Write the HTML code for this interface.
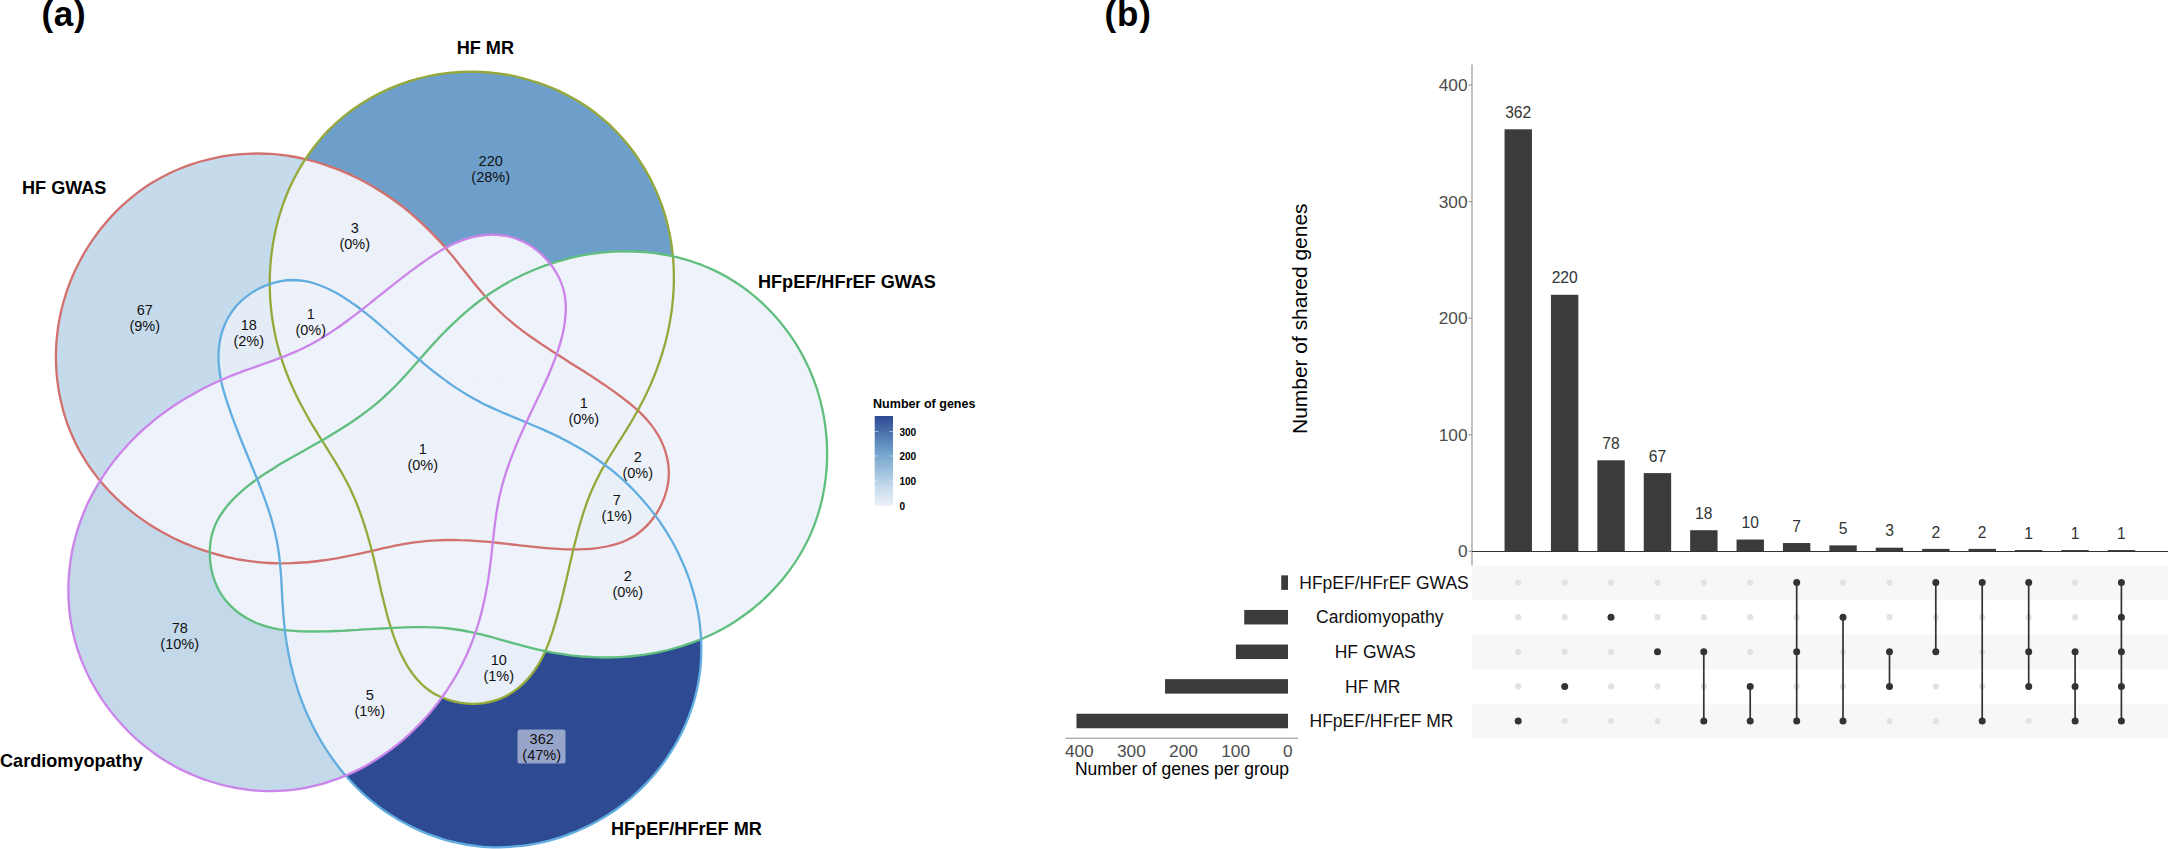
<!DOCTYPE html>
<html lang="en"><head><meta charset="utf-8"><title>Venn and UpSet</title>
<style>
html,body{margin:0;padding:0;background:#fff;}
body{width:2168px;height:849px;overflow:hidden;}
svg{display:block;font-family:"Liberation Sans",sans-serif;}
.b{font-weight:bold;}
.cnt{font-size:14.5px;fill:#111;text-anchor:middle;}
.set{font-size:18.1px;font-weight:bold;fill:#000;}
.ax{font-size:17.3px;fill:#4d4d4d;}
.bl{font-size:15.6px;fill:#333;text-anchor:middle;}
.sl{font-size:17.5px;fill:#111;text-anchor:middle;}
</style></head><body>
<svg width="2168" height="849" viewBox="0 0 2168 849">
<rect width="2168" height="849" fill="#fff"/>

<defs>
<path id="p_red" d="M63.4 411.2C62.4 407.5 61.4 403.8 60.6 400.1C59.8 396.4 59.1 392.7 58.5 388.9C57.9 385.2 57.4 381.4 57.0 377.7C56.6 373.9 56.3 370.2 56.2 366.4C56.0 362.6 55.9 358.9 55.9 355.1C56.0 351.4 56.1 347.6 56.3 343.8C56.6 340.1 56.9 336.4 57.4 332.6C57.8 328.9 58.4 325.2 59.0 321.5C59.7 317.8 60.4 314.1 61.3 310.4C62.2 306.8 63.1 303.1 64.2 299.5C65.2 295.9 66.4 292.3 67.6 288.8C68.9 285.2 70.3 281.7 71.7 278.2C73.2 274.7 74.7 271.2 76.4 267.8C78.0 264.4 79.8 261.0 81.6 257.7C83.4 254.4 85.4 251.1 87.4 247.9C89.4 244.7 91.5 241.5 93.7 238.4C95.8 235.2 98.1 232.2 100.5 229.2C102.8 226.2 105.2 223.3 107.7 220.4C110.2 217.6 112.8 214.8 115.5 212.1C118.1 209.4 120.9 206.7 123.7 204.2C126.5 201.6 129.4 199.2 132.3 196.8C135.2 194.4 138.2 192.1 141.3 189.9C144.4 187.7 147.5 185.6 150.7 183.6C153.9 181.6 157.1 179.7 160.4 177.9C163.8 176.1 167.1 174.4 170.5 172.7C173.9 171.1 177.4 169.6 180.9 168.2C184.4 166.8 187.9 165.5 191.5 164.3C195.1 163.1 198.7 162.0 202.3 161.0C206.0 160.0 209.6 159.1 213.3 158.3C217.0 157.5 220.7 156.7 224.5 156.1C228.2 155.6 232.0 155.1 235.7 154.7C239.5 154.3 243.2 154.0 247.0 153.8C250.8 153.6 254.6 153.5 258.3 153.5C262.1 153.6 265.9 153.7 269.7 153.9C273.4 154.1 277.2 154.5 280.9 154.9C284.7 155.3 288.4 155.9 292.1 156.5C295.9 157.1 299.6 157.9 303.3 158.7C306.9 159.5 310.6 160.5 314.2 161.5C317.9 162.5 321.5 163.6 325.1 164.8C328.7 166.0 332.3 167.3 335.8 168.6C339.3 170.0 342.8 171.4 346.3 172.9C349.8 174.5 353.2 176.1 356.6 177.8C360.0 179.4 363.4 181.2 366.7 183.0C370.0 184.8 373.3 186.7 376.5 188.7C379.8 190.7 383.0 192.7 386.1 194.8C389.3 196.9 392.4 199.1 395.4 201.3C398.4 203.5 401.4 205.8 404.4 208.2C407.3 210.5 410.2 212.9 413.1 215.4C415.9 217.8 418.7 220.4 421.5 222.9C424.2 225.5 427.0 228.1 429.6 230.8C432.3 233.4 434.9 236.1 437.5 238.9C440.1 241.7 442.6 244.5 445.1 247.3C447.6 250.2 450.0 253.1 452.5 256.0C454.9 258.9 457.3 261.9 459.6 264.9C462.0 267.8 464.4 270.8 466.7 273.8C469.1 276.8 471.5 279.8 473.8 282.7C476.2 285.7 478.6 288.6 481.1 291.5C483.5 294.4 486.0 297.3 488.5 300.1C491.1 302.9 493.6 305.6 496.3 308.3C499.0 310.9 501.7 313.5 504.5 316.0C507.3 318.5 510.1 321.0 513.0 323.3C515.9 325.7 518.9 328.0 521.9 330.3C524.9 332.6 528.0 334.8 531.1 337.0C534.1 339.2 537.3 341.3 540.4 343.4C543.5 345.5 546.7 347.6 549.9 349.7C553.0 351.8 556.2 353.8 559.4 355.8C562.6 357.9 565.8 359.9 569.0 361.9C572.2 363.9 575.4 365.9 578.6 368.0C581.7 370.0 584.9 372.0 588.1 374.1C591.3 376.1 594.4 378.2 597.6 380.3C600.7 382.4 603.8 384.5 607.0 386.6C610.1 388.8 613.2 391.0 616.2 393.2C619.3 395.4 622.3 397.6 625.3 400.0C628.3 402.3 631.3 404.7 634.1 407.2C637.0 409.6 639.8 412.2 642.4 414.9C645.1 417.6 647.6 420.4 650.0 423.4C652.4 426.4 654.6 429.5 656.6 432.7C658.6 435.9 660.5 439.2 662.0 442.6C663.6 446.1 664.9 449.6 665.9 453.3C667.0 456.9 667.8 460.6 668.3 464.3C668.7 468.0 668.9 471.8 668.8 475.6C668.6 479.3 668.2 483.1 667.4 486.8C666.7 490.4 665.6 494.1 664.3 497.7C663.0 501.2 661.4 504.7 659.6 508.1C657.8 511.4 655.7 514.7 653.5 517.7C651.3 520.8 648.8 523.7 646.2 526.4C643.6 529.0 640.7 531.5 637.7 533.7C634.7 535.9 631.5 537.8 628.1 539.4C624.8 541.1 621.2 542.5 617.6 543.6C614.0 544.8 610.3 545.7 606.6 546.5C602.8 547.3 599.1 547.9 595.3 548.3C591.5 548.8 587.7 549.0 583.9 549.2C580.2 549.4 576.3 549.4 572.6 549.4C568.8 549.4 565.0 549.3 561.2 549.1C557.4 548.9 553.7 548.7 549.9 548.4C546.1 548.1 542.4 547.8 538.6 547.4C534.9 547.0 531.1 546.6 527.3 546.2C523.6 545.8 519.8 545.3 516.1 544.9C512.3 544.5 508.6 544.0 504.8 543.6C501.0 543.2 497.3 542.8 493.5 542.4C489.7 542.0 485.9 541.7 482.1 541.4C478.3 541.1 474.6 540.8 470.8 540.6C467.0 540.4 463.2 540.2 459.4 540.2C455.6 540.1 451.8 540.0 448.1 540.0C444.3 540.1 440.5 540.2 436.7 540.3C433.0 540.5 429.2 540.8 425.5 541.1C421.7 541.5 418.0 541.9 414.2 542.4C410.5 542.9 406.8 543.6 403.1 544.2C399.4 544.9 395.7 545.6 392.0 546.4C388.3 547.1 384.6 548.0 380.9 548.8C377.2 549.6 373.6 550.5 369.9 551.3C366.2 552.1 362.5 553.0 358.8 553.8C355.1 554.6 351.4 555.4 347.7 556.2C344.0 556.9 340.3 557.6 336.6 558.3C332.8 558.9 329.1 559.5 325.4 560.1C321.6 560.6 317.9 561.1 314.1 561.5C310.4 561.9 306.6 562.3 302.9 562.5C299.1 562.8 295.4 563.0 291.6 563.2C287.9 563.3 284.1 563.3 280.3 563.3C276.6 563.3 272.8 563.2 269.0 563.0C265.3 562.8 261.5 562.5 257.7 562.1C254.0 561.7 250.2 561.2 246.5 560.7C242.7 560.1 239.0 559.5 235.3 558.8C231.6 558.0 227.8 557.2 224.2 556.3C220.5 555.4 216.8 554.4 213.2 553.4C209.5 552.3 205.9 551.2 202.3 549.9C198.7 548.7 195.1 547.4 191.6 546.0C188.1 544.6 184.6 543.1 181.1 541.6C177.7 540.0 174.2 538.4 170.9 536.7C167.5 534.9 164.1 533.1 160.8 531.3C157.6 529.4 154.3 527.4 151.1 525.4C147.9 523.4 144.8 521.3 141.7 519.1C138.6 516.9 135.6 514.7 132.6 512.3C129.6 510.0 126.7 507.6 123.9 505.1C121.0 502.6 118.3 500.1 115.6 497.5C112.9 494.8 110.2 492.2 107.7 489.4C105.1 486.6 102.6 483.8 100.2 480.9C97.8 478.0 95.5 475.1 93.3 472.1C91.0 469.0 88.9 465.9 86.8 462.8C84.8 459.6 82.8 456.4 80.9 453.2C79.1 449.9 77.3 446.6 75.6 443.2C73.9 439.8 72.4 436.3 70.9 432.8C69.4 429.3 68.1 425.7 66.8 422.1C65.6 418.5 64.4 414.9 63.4 411.2Z"/>
<clipPath id="c_red"><use href="#p_red"/></clipPath>
<path id="p_olive" d="M354.6 108.3C357.7 106.1 360.9 104.0 364.1 102.0C367.3 100.0 370.6 98.1 373.9 96.3C377.3 94.5 380.6 92.7 384.1 91.1C387.5 89.5 390.9 88.0 394.4 86.6C397.9 85.2 401.4 83.9 405.0 82.6C408.5 81.4 412.1 80.3 415.7 79.3C419.4 78.3 423.0 77.3 426.7 76.5C430.3 75.7 434.0 75.0 437.7 74.4C441.4 73.8 445.2 73.3 448.9 72.9C452.6 72.5 456.4 72.2 460.2 72.0C463.9 71.8 467.7 71.7 471.5 71.7C475.2 71.7 479.0 71.8 482.8 72.0C486.6 72.2 490.3 72.5 494.1 73.0C497.9 73.4 501.6 73.9 505.4 74.5C509.1 75.1 512.9 75.9 516.6 76.7C520.3 77.5 524.0 78.5 527.6 79.5C531.3 80.5 534.9 81.6 538.5 82.9C542.1 84.1 545.7 85.4 549.2 86.8C552.8 88.2 556.2 89.7 559.7 91.4C563.1 93.0 566.5 94.7 569.8 96.5C573.2 98.3 576.5 100.1 579.7 102.1C582.9 104.1 586.1 106.2 589.2 108.3C592.2 110.5 595.3 112.8 598.2 115.1C601.2 117.5 604.1 119.9 606.9 122.4C609.7 124.9 612.4 127.5 615.0 130.2C617.7 132.9 620.3 135.7 622.8 138.5C625.2 141.3 627.7 144.2 630.0 147.2C632.3 150.2 634.6 153.2 636.7 156.3C638.9 159.4 640.9 162.6 642.9 165.8C644.9 169.0 646.8 172.3 648.6 175.6C650.4 178.9 652.1 182.3 653.7 185.7C655.4 189.1 656.9 192.6 658.3 196.1C659.7 199.6 661.1 203.1 662.3 206.7C663.5 210.3 664.7 213.9 665.7 217.5C666.7 221.1 667.7 224.8 668.5 228.5C669.4 232.1 670.1 235.8 670.7 239.6C671.4 243.3 671.9 247.0 672.3 250.8C672.8 254.5 673.1 258.3 673.4 262.1C673.6 265.8 673.8 269.6 673.8 273.4C673.9 277.2 673.9 281.0 673.8 284.7C673.7 288.5 673.5 292.3 673.2 296.1C672.9 299.9 672.5 303.7 672.1 307.4C671.6 311.2 671.1 314.9 670.4 318.7C669.8 322.4 669.1 326.2 668.3 329.9C667.6 333.6 666.7 337.3 665.8 340.9C664.8 344.6 663.8 348.2 662.7 351.8C661.6 355.4 660.5 359.0 659.2 362.6C658.0 366.1 656.7 369.7 655.3 373.2C653.9 376.7 652.5 380.2 651.0 383.6C649.5 387.1 647.9 390.5 646.3 393.9C644.7 397.3 643.0 400.7 641.2 404.0C639.5 407.4 637.7 410.7 635.8 414.0C633.9 417.3 632.0 420.6 630.1 423.8C628.1 427.1 626.1 430.3 624.1 433.5C622.1 436.7 620.0 440.0 618.0 443.2C616.0 446.4 613.9 449.6 611.9 452.8C609.9 456.1 607.9 459.3 606.0 462.6C604.1 465.8 602.2 469.1 600.4 472.4C598.7 475.8 596.9 479.1 595.3 482.5C593.7 485.9 592.2 489.3 590.7 492.8C589.3 496.3 587.9 499.8 586.6 503.3C585.4 506.8 584.2 510.4 583.0 514.0C581.9 517.6 580.8 521.2 579.7 524.8C578.7 528.4 577.7 532.1 576.8 535.8C575.8 539.4 574.9 543.1 574.0 546.8C573.1 550.4 572.2 554.1 571.4 557.8C570.5 561.5 569.7 565.2 568.8 568.9C568.0 572.5 567.1 576.2 566.3 579.9C565.4 583.6 564.6 587.3 563.7 590.9C562.8 594.6 561.9 598.3 561.0 601.9C560.0 605.6 559.1 609.2 558.1 612.9C557.1 616.5 556.1 620.2 555.0 623.8C553.9 627.4 552.8 631.1 551.6 634.7C550.4 638.2 549.2 641.8 547.8 645.3C546.3 648.9 544.9 652.3 543.2 655.7C541.5 659.1 539.7 662.5 537.7 665.7C535.7 668.9 533.5 672.1 531.1 675.0C528.8 678.0 526.2 680.8 523.5 683.4C520.8 686.0 517.9 688.5 514.8 690.6C511.8 692.8 508.5 694.8 505.2 696.5C501.8 698.2 498.3 699.6 494.7 700.7C491.1 701.8 487.4 702.6 483.7 703.2C480.0 703.7 476.2 703.9 472.4 703.8C468.6 703.8 464.8 703.4 461.0 702.8C457.3 702.2 453.5 701.4 449.9 700.3C446.3 699.2 442.7 697.9 439.3 696.3C435.9 694.7 432.6 692.8 429.6 690.7C426.5 688.6 423.6 686.2 421.0 683.5C418.3 680.9 415.8 678.0 413.5 675.0C411.2 672.0 409.1 668.8 407.1 665.6C405.2 662.3 403.4 658.9 401.7 655.5C400.0 652.1 398.5 648.6 397.1 645.1C395.6 641.6 394.3 638.0 393.1 634.5C391.9 630.9 390.7 627.3 389.6 623.7C388.5 620.0 387.5 616.4 386.6 612.8C385.6 609.1 384.7 605.4 383.8 601.8C382.9 598.1 382.0 594.4 381.1 590.7C380.3 587.1 379.5 583.4 378.6 579.7C377.8 576.0 377.0 572.3 376.1 568.6C375.3 564.9 374.4 561.2 373.5 557.5C372.6 553.8 371.7 550.2 370.7 546.5C369.7 542.8 368.7 539.2 367.6 535.5C366.6 531.9 365.5 528.2 364.3 524.6C363.1 521.0 361.9 517.5 360.6 513.9C359.4 510.3 358.0 506.8 356.6 503.3C355.2 499.8 353.7 496.4 352.1 492.9C350.6 489.5 348.9 486.1 347.2 482.8C345.5 479.5 343.6 476.2 341.8 472.9C339.9 469.6 338.0 466.4 336.1 463.1C334.1 459.9 332.1 456.7 330.1 453.5C328.1 450.3 326.1 447.1 324.1 443.9C322.1 440.7 320.1 437.5 318.1 434.3C316.1 431.0 314.1 427.8 312.1 424.6C310.2 421.3 308.3 418.1 306.5 414.8C304.6 411.5 302.8 408.1 301.1 404.8C299.3 401.5 297.6 398.1 296.0 394.7C294.3 391.3 292.8 387.9 291.3 384.4C289.7 381.0 288.3 377.5 286.9 374.0C285.6 370.5 284.3 367.0 283.0 363.4C281.8 359.8 280.7 356.2 279.6 352.6C278.6 349.0 277.6 345.3 276.7 341.7C275.8 338.0 275.0 334.3 274.3 330.6C273.6 326.9 272.9 323.1 272.4 319.4C271.8 315.6 271.4 311.9 271.0 308.1C270.6 304.3 270.3 300.5 270.1 296.7C269.9 292.9 269.8 289.1 269.8 285.3C269.7 281.6 269.8 277.8 269.9 274.0C270.1 270.2 270.3 266.4 270.6 262.6C271.0 258.8 271.4 255.0 271.9 251.3C272.4 247.5 272.9 243.8 273.6 240.0C274.3 236.3 275.1 232.6 275.9 228.9C276.8 225.2 277.7 221.6 278.7 217.9C279.8 214.3 280.9 210.7 282.1 207.1C283.3 203.5 284.6 200.0 286.0 196.5C287.4 193.0 288.9 189.5 290.5 186.1C292.1 182.7 293.7 179.3 295.5 176.0C297.2 172.7 299.1 169.4 301.0 166.2C302.9 162.9 304.9 159.8 307.1 156.7C309.2 153.5 311.4 150.5 313.7 147.5C315.9 144.5 318.3 141.6 320.8 138.7C323.2 135.9 325.8 133.1 328.4 130.4C331.1 127.7 333.8 125.1 336.6 122.5C339.5 120.0 342.4 117.5 345.4 115.1C348.4 112.8 351.4 110.5 354.6 108.3Z"/>
<clipPath id="c_olive"><use href="#p_olive"/></clipPath>
<path id="p_green" d="M750.3 292.8C753.3 295.2 756.2 297.6 759.0 300.2C761.9 302.7 764.6 305.3 767.3 308.0C770.0 310.7 772.6 313.4 775.1 316.2C777.6 319.0 780.1 321.9 782.4 324.9C784.8 327.8 787.0 330.8 789.2 333.9C791.4 336.9 793.5 340.1 795.5 343.2C797.5 346.4 799.4 349.7 801.2 352.9C803.0 356.2 804.8 359.6 806.4 362.9C808.1 366.3 809.6 369.7 811.1 373.2C812.5 376.7 813.9 380.2 815.1 383.7C816.4 387.3 817.6 390.9 818.6 394.5C819.7 398.1 820.7 401.8 821.5 405.4C822.4 409.1 823.2 412.8 823.8 416.6C824.5 420.3 825.1 424.1 825.5 427.8C826.0 431.6 826.4 435.4 826.6 439.2C826.9 443.0 827.0 446.8 827.1 450.6C827.2 454.4 827.1 458.2 827.0 462.0C826.8 465.8 826.6 469.6 826.2 473.4C825.9 477.1 825.4 480.9 824.8 484.7C824.3 488.4 823.6 492.1 822.8 495.9C822.0 499.6 821.2 503.2 820.2 506.9C819.2 510.5 818.1 514.2 816.9 517.7C815.7 521.3 814.4 524.9 813.0 528.4C811.6 531.9 810.1 535.3 808.5 538.7C806.8 542.1 805.1 545.5 803.3 548.8C801.5 552.1 799.6 555.3 797.6 558.5C795.6 561.7 793.5 564.9 791.3 567.9C789.1 571.0 786.8 574.0 784.4 577.0C782.1 579.9 779.6 582.8 777.1 585.6C774.6 588.4 772.0 591.2 769.3 593.9C766.7 596.5 763.9 599.1 761.1 601.7C758.3 604.2 755.4 606.6 752.5 609.0C749.5 611.4 746.5 613.6 743.4 615.8C740.4 618.0 737.2 620.2 734.0 622.2C730.9 624.2 727.6 626.1 724.3 628.0C721.0 629.8 717.7 631.6 714.3 633.3C710.9 634.9 707.5 636.5 704.0 638.0C700.5 639.5 697.0 640.9 693.5 642.2C689.9 643.5 686.4 644.7 682.8 645.9C679.2 647.0 675.5 648.1 671.9 649.0C668.2 650.0 664.5 650.9 660.8 651.7C657.1 652.5 653.4 653.2 649.6 653.8C645.9 654.5 642.1 655.0 638.4 655.5C634.6 655.9 630.8 656.3 627.1 656.6C623.3 656.9 619.5 657.2 615.7 657.3C611.9 657.4 608.2 657.5 604.4 657.5C600.6 657.5 596.8 657.4 593.1 657.2C589.3 657.0 585.6 656.8 581.8 656.5C578.1 656.1 574.3 655.7 570.6 655.3C566.8 654.8 563.1 654.3 559.4 653.7C555.7 653.1 552.0 652.4 548.2 651.7C544.5 651.0 540.8 650.2 537.1 649.4C533.5 648.5 529.8 647.6 526.1 646.6C522.4 645.7 518.8 644.7 515.1 643.7C511.4 642.7 507.8 641.6 504.1 640.6C500.4 639.6 496.8 638.5 493.1 637.5C489.4 636.5 485.8 635.5 482.1 634.6C478.4 633.7 474.7 632.9 471.0 632.1C467.4 631.3 463.7 630.6 459.9 630.0C456.2 629.4 452.5 628.9 448.8 628.5C445.0 628.1 441.3 627.8 437.5 627.6C433.8 627.4 430.0 627.2 426.3 627.2C422.5 627.1 418.7 627.1 415.0 627.1C411.2 627.1 407.4 627.2 403.6 627.4C399.8 627.5 396.1 627.7 392.3 627.9C388.5 628.0 384.7 628.3 380.9 628.5C377.2 628.7 373.4 628.9 369.6 629.2C365.8 629.4 362.1 629.6 358.3 629.9C354.5 630.1 350.8 630.3 347.0 630.5C343.2 630.7 339.5 630.9 335.7 631.0C331.9 631.2 328.1 631.3 324.4 631.4C320.6 631.5 316.8 631.5 313.0 631.5C309.2 631.5 305.4 631.5 301.6 631.4C297.9 631.2 294.1 631.1 290.3 630.7C286.5 630.4 282.8 629.9 279.0 629.3C275.3 628.6 271.6 627.9 267.9 626.8C264.3 625.8 260.6 624.6 257.1 623.2C253.6 621.8 250.2 620.2 246.9 618.3C243.6 616.4 240.5 614.3 237.5 612.0C234.5 609.7 231.7 607.1 229.2 604.4C226.6 601.7 224.2 598.7 222.1 595.6C220.0 592.5 218.2 589.2 216.7 585.7C215.1 582.3 213.8 578.7 212.8 575.1C211.8 571.4 211.0 567.7 210.5 563.9C210.0 560.1 209.8 556.3 209.8 552.5C209.8 548.7 210.1 544.9 210.6 541.2C211.2 537.5 212.0 533.8 213.2 530.3C214.4 526.8 215.9 523.3 217.6 520.0C219.4 516.7 221.5 513.5 223.7 510.5C225.9 507.4 228.4 504.5 230.9 501.6C233.5 498.8 236.2 496.2 239.0 493.6C241.8 491.0 244.7 488.6 247.7 486.2C250.6 483.8 253.7 481.6 256.8 479.4C259.8 477.1 263.0 475.0 266.1 473.0C269.3 470.9 272.5 468.9 275.7 466.9C278.9 464.9 282.2 463.0 285.5 461.1C288.7 459.2 292.0 457.3 295.3 455.5C298.6 453.6 301.9 451.8 305.2 449.9C308.5 448.0 311.8 446.2 315.1 444.3C318.4 442.5 321.7 440.6 325.0 438.7C328.2 436.8 331.5 434.8 334.7 432.8C338.0 430.9 341.2 428.9 344.4 426.8C347.6 424.8 350.8 422.7 353.9 420.5C357.0 418.4 360.1 416.2 363.1 414.0C366.2 411.7 369.2 409.4 372.1 407.1C375.1 404.7 378.0 402.3 380.8 399.8C383.6 397.4 386.4 394.8 389.1 392.2C391.8 389.6 394.5 386.9 397.1 384.2C399.7 381.5 402.3 378.8 404.8 376.0C407.4 373.2 409.9 370.4 412.4 367.5C414.9 364.7 417.4 361.8 419.9 359.0C422.4 356.2 424.9 353.3 427.4 350.5C429.9 347.7 432.4 344.8 435.0 342.1C437.6 339.3 440.1 336.5 442.8 333.8C445.4 331.1 448.1 328.4 450.8 325.8C453.5 323.2 456.2 320.6 459.0 318.1C461.8 315.5 464.7 313.0 467.5 310.6C470.4 308.2 473.3 305.8 476.3 303.5C479.3 301.2 482.3 298.9 485.4 296.8C488.4 294.6 491.6 292.5 494.7 290.4C497.9 288.4 501.1 286.4 504.4 284.5C507.7 282.6 511.0 280.8 514.3 279.1C517.7 277.3 521.1 275.6 524.5 274.0C528.0 272.5 531.5 270.9 535.0 269.5C538.5 268.1 542.0 266.7 545.6 265.4C549.2 264.2 552.8 263.0 556.4 261.9C560.1 260.8 563.7 259.7 567.4 258.8C571.1 257.8 574.8 257.0 578.5 256.2C582.2 255.5 585.9 254.8 589.7 254.2C593.4 253.6 597.2 253.1 600.9 252.7C604.7 252.3 608.5 251.9 612.3 251.7C616.0 251.5 619.8 251.3 623.6 251.3C627.4 251.3 631.2 251.3 634.9 251.5C638.7 251.6 642.5 251.9 646.2 252.2C650.0 252.5 653.7 253.0 657.5 253.5C661.2 254.0 664.9 254.7 668.6 255.4C672.3 256.1 675.9 257.0 679.6 257.9C683.2 258.9 686.8 259.9 690.4 261.0C694.0 262.2 697.5 263.4 701.1 264.7C704.6 266.1 708.0 267.5 711.5 269.1C714.9 270.6 718.3 272.3 721.6 274.1C725.0 275.8 728.3 277.7 731.5 279.7C734.8 281.7 738.0 283.8 741.1 286.0C744.2 288.1 747.3 290.4 750.3 292.8Z"/>
<clipPath id="c_green"><use href="#p_green"/></clipPath>
<path id="p_blue" d="M690.5 711.7C689.3 715.3 687.9 718.8 686.4 722.3C684.9 725.8 683.3 729.3 681.7 732.7C680.0 736.1 678.3 739.4 676.4 742.7C674.6 746.0 672.6 749.3 670.6 752.4C668.6 755.6 666.4 758.7 664.2 761.8C662.0 764.8 659.8 767.8 657.4 770.7C655.0 773.6 652.6 776.5 650.1 779.3C647.6 782.1 645.0 784.8 642.3 787.4C639.6 790.1 636.9 792.7 634.1 795.1C631.3 797.6 628.4 800.1 625.4 802.4C622.5 804.7 619.4 807.0 616.4 809.2C613.3 811.4 610.1 813.4 606.9 815.5C603.7 817.5 600.5 819.4 597.1 821.2C593.8 823.1 590.5 824.8 587.0 826.5C583.6 828.1 580.2 829.7 576.7 831.2C573.1 832.6 569.6 834.0 566.0 835.3C562.4 836.6 558.8 837.8 555.2 838.8C551.5 839.9 547.9 840.9 544.2 841.8C540.5 842.7 536.8 843.5 533.0 844.1C529.3 844.8 525.5 845.4 521.8 845.9C518.0 846.3 514.3 846.7 510.5 846.9C506.7 847.2 502.9 847.3 499.2 847.3C495.4 847.4 491.6 847.3 487.8 847.1C484.1 846.9 480.3 846.5 476.6 846.1C472.8 845.7 469.1 845.1 465.4 844.5C461.7 843.8 458.0 843.1 454.3 842.2C450.6 841.3 447.0 840.3 443.4 839.3C439.8 838.2 436.2 837.0 432.6 835.7C429.1 834.5 425.5 833.1 422.1 831.6C418.6 830.1 415.1 828.5 411.8 826.9C408.4 825.2 405.0 823.5 401.7 821.6C398.4 819.8 395.2 817.8 392.0 815.8C388.8 813.8 385.7 811.6 382.6 809.5C379.5 807.3 376.5 805.0 373.6 802.6C370.6 800.3 367.7 797.8 364.9 795.3C362.1 792.8 359.4 790.2 356.7 787.5C354.0 784.8 351.4 782.1 348.9 779.3C346.4 776.5 343.9 773.6 341.5 770.7C339.1 767.8 336.8 764.8 334.6 761.7C332.3 758.7 330.2 755.6 328.1 752.4C326.0 749.3 323.9 746.1 322.0 742.8C320.0 739.6 318.2 736.3 316.3 732.9C314.5 729.6 312.8 726.2 311.2 722.8C309.5 719.4 307.9 716.0 306.4 712.5C304.9 709.0 303.5 705.5 302.1 702.0C300.8 698.4 299.5 694.9 298.3 691.3C297.1 687.7 296.0 684.1 294.9 680.5C293.9 676.9 292.9 673.3 292.0 669.6C291.1 666.0 290.2 662.3 289.5 658.6C288.7 654.9 288.0 651.2 287.4 647.5C286.7 643.8 286.1 640.0 285.6 636.3C285.1 632.6 284.7 628.8 284.3 625.0C283.9 621.3 283.6 617.5 283.3 613.7C283.0 609.9 282.8 606.1 282.5 602.3C282.3 598.5 282.1 594.7 281.9 590.9C281.7 587.1 281.5 583.3 281.3 579.5C281.0 575.7 280.8 571.9 280.4 568.2C280.1 564.4 279.8 560.6 279.3 556.9C278.8 553.2 278.3 549.4 277.7 545.7C277.0 542.0 276.3 538.3 275.5 534.7C274.6 531.0 273.7 527.4 272.7 523.7C271.7 520.1 270.6 516.5 269.5 512.9C268.4 509.3 267.1 505.8 265.9 502.2C264.6 498.6 263.3 495.1 262.0 491.6C260.6 488.0 259.3 484.5 257.9 481.0C256.5 477.5 255.0 474.0 253.6 470.4C252.2 466.9 250.7 463.5 249.3 460.0C247.9 456.5 246.4 453.0 245.0 449.5C243.6 446.0 242.1 442.5 240.7 439.0C239.3 435.5 237.9 432.0 236.6 428.4C235.2 424.9 233.9 421.4 232.6 417.8C231.3 414.3 230.0 410.7 228.8 407.1C227.6 403.6 226.4 400.0 225.3 396.3C224.2 392.7 223.1 389.1 222.2 385.4C221.4 381.7 220.5 378.0 220.0 374.3C219.4 370.5 218.9 366.7 218.7 363.0C218.5 359.2 218.4 355.3 218.6 351.6C218.8 347.8 219.3 344.0 220.0 340.3C220.7 336.6 221.7 332.9 222.9 329.4C224.1 325.8 225.6 322.3 227.4 319.0C229.2 315.7 231.2 312.5 233.5 309.5C235.7 306.6 238.3 303.7 241.0 301.2C243.8 298.6 246.8 296.2 249.9 294.1C253.0 291.9 256.3 290.0 259.7 288.3C263.1 286.6 266.7 285.1 270.3 283.9C273.8 282.7 277.5 281.8 281.2 281.1C284.9 280.4 288.7 280.1 292.4 280.0C296.1 280.0 299.9 280.3 303.6 280.9C307.3 281.5 310.9 282.4 314.6 283.5C318.2 284.6 321.7 286.0 325.2 287.5C328.7 289.0 332.1 290.8 335.5 292.6C338.8 294.4 342.1 296.3 345.3 298.4C348.5 300.4 351.6 302.6 354.7 304.8C357.8 307.0 360.8 309.3 363.8 311.6C366.7 313.9 369.7 316.3 372.6 318.7C375.5 321.1 378.4 323.6 381.2 326.0C384.1 328.5 386.9 331.0 389.7 333.5C392.6 336.0 395.4 338.6 398.2 341.1C401.0 343.6 403.8 346.2 406.6 348.7C409.5 351.2 412.3 353.7 415.2 356.2C418.1 358.7 420.9 361.1 423.9 363.6C426.8 366.0 429.7 368.4 432.7 370.8C435.7 373.1 438.7 375.4 441.7 377.7C444.7 380.0 447.8 382.2 450.9 384.4C454.0 386.5 457.1 388.6 460.3 390.6C463.5 392.7 466.7 394.6 470.0 396.5C473.2 398.4 476.5 400.2 479.9 401.9C483.2 403.7 486.6 405.3 490.0 406.9C493.4 408.5 496.9 410.0 500.3 411.5C503.8 413.1 507.3 414.5 510.7 416.0C514.2 417.4 517.7 418.9 521.2 420.3C524.7 421.8 528.2 423.2 531.7 424.7C535.2 426.1 538.7 427.6 542.1 429.1C545.6 430.7 549.0 432.2 552.5 433.9C555.9 435.5 559.3 437.1 562.6 438.9C566.0 440.6 569.3 442.3 572.6 444.2C575.9 446.0 579.2 447.9 582.4 449.8C585.6 451.8 588.8 453.8 592.0 455.8C595.1 457.9 598.2 460.0 601.3 462.2C604.3 464.4 607.3 466.7 610.3 469.0C613.3 471.4 616.2 473.8 619.0 476.3C621.9 478.7 624.7 481.3 627.4 483.9C630.1 486.5 632.8 489.2 635.4 492.0C638.0 494.7 640.6 497.5 643.1 500.4C645.6 503.2 648.0 506.1 650.4 509.1C652.7 512.1 655.0 515.1 657.2 518.2C659.5 521.3 661.6 524.4 663.7 527.6C665.8 530.8 667.8 534.0 669.7 537.3C671.6 540.5 673.5 543.8 675.3 547.2C677.0 550.5 678.7 553.9 680.3 557.4C681.9 560.8 683.4 564.3 684.9 567.8C686.3 571.3 687.7 574.8 688.9 578.4C690.2 581.9 691.4 585.5 692.4 589.1C693.5 592.8 694.5 596.4 695.4 600.1C696.3 603.7 697.1 607.4 697.8 611.1C698.5 614.8 699.1 618.5 699.6 622.3C700.1 626.0 700.4 629.7 700.7 633.5C701.0 637.2 701.2 641.0 701.3 644.7C701.4 648.5 701.3 652.3 701.2 656.0C701.1 659.8 700.8 663.5 700.5 667.3C700.1 671.0 699.6 674.8 699.0 678.5C698.4 682.2 697.7 686.0 696.9 689.7C696.1 693.4 695.1 697.1 694.1 700.8C693.0 704.4 691.8 708.1 690.5 711.7Z"/>
<clipPath id="c_blue"><use href="#p_blue"/></clipPath>
<path id="p_magenta" d="M260.1 790.8C256.3 790.6 252.5 790.2 248.7 789.8C244.9 789.4 241.1 788.8 237.4 788.2C233.7 787.5 230.0 786.8 226.3 785.9C222.6 785.1 219.0 784.1 215.4 783.0C211.7 782.0 208.2 780.8 204.6 779.6C201.1 778.3 197.6 777.0 194.1 775.5C190.6 774.1 187.2 772.5 183.8 770.9C180.5 769.2 177.1 767.5 173.8 765.7C170.5 763.9 167.3 762.0 164.1 760.0C160.9 758.0 157.8 755.9 154.7 753.7C151.7 751.5 148.7 749.2 145.7 746.9C142.7 744.5 139.8 742.1 137.0 739.6C134.2 737.1 131.4 734.5 128.7 731.8C126.1 729.1 123.4 726.4 120.9 723.6C118.3 720.8 115.9 717.9 113.5 714.9C111.1 712.0 108.8 709.0 106.5 705.9C104.3 702.8 102.1 699.7 100.1 696.5C98.0 693.3 96.0 690.0 94.2 686.7C92.3 683.4 90.5 680.1 88.8 676.7C87.1 673.3 85.5 669.8 84.0 666.4C82.5 662.9 81.1 659.4 79.8 655.8C78.5 652.3 77.3 648.7 76.2 645.1C75.2 641.4 74.2 637.8 73.3 634.1C72.5 630.4 71.7 626.7 71.1 623.0C70.5 619.3 69.9 615.6 69.5 611.8C69.1 608.1 68.8 604.3 68.6 600.6C68.4 596.8 68.3 593.0 68.4 589.2C68.4 585.5 68.5 581.7 68.7 577.9C69.0 574.2 69.3 570.4 69.8 566.6C70.2 562.9 70.7 559.1 71.4 555.4C72.0 551.7 72.8 548.0 73.6 544.3C74.5 540.6 75.5 537.0 76.5 533.3C77.6 529.7 78.7 526.1 80.0 522.5C81.2 519.0 82.6 515.4 84.0 512.0C85.4 508.5 87.0 505.0 88.6 501.6C90.2 498.2 92.0 494.9 93.8 491.6C95.6 488.2 97.5 485.0 99.5 481.8C101.5 478.6 103.5 475.4 105.7 472.3C107.8 469.2 110.0 466.1 112.3 463.1C114.6 460.1 117.0 457.1 119.4 454.2C121.9 451.3 124.4 448.5 127.0 445.7C129.5 442.9 132.2 440.2 134.9 437.5C137.6 434.9 140.3 432.3 143.1 429.7C145.9 427.2 148.8 424.7 151.7 422.3C154.6 419.8 157.6 417.5 160.6 415.2C163.6 412.9 166.7 410.7 169.8 408.5C172.9 406.4 176.0 404.3 179.2 402.3C182.4 400.2 185.6 398.3 188.8 396.4C192.1 394.5 195.4 392.7 198.7 390.9C202.0 389.1 205.4 387.4 208.8 385.8C212.1 384.1 215.6 382.5 219.0 381.0C222.5 379.4 226.0 378.0 229.5 376.5C233.0 375.1 236.5 373.7 240.1 372.4C243.6 371.0 247.2 369.8 250.8 368.5C254.4 367.2 258.0 366.0 261.6 364.7C265.1 363.4 268.7 362.2 272.3 360.9C275.9 359.6 279.4 358.3 283.0 356.9C286.5 355.5 290.0 354.1 293.5 352.6C296.9 351.2 300.4 349.6 303.7 348.0C307.1 346.3 310.5 344.6 313.7 342.8C317.0 340.9 320.3 339.0 323.5 337.0C326.7 335.1 329.8 333.0 332.9 330.9C336.1 328.8 339.2 326.7 342.2 324.5C345.3 322.3 348.3 320.0 351.4 317.7C354.4 315.5 357.4 313.1 360.4 310.8C363.3 308.5 366.3 306.1 369.3 303.8C372.2 301.4 375.2 299.1 378.1 296.7C381.1 294.4 384.0 292.0 387.0 289.6C390.0 287.3 392.9 284.9 395.9 282.6C398.9 280.3 401.8 278.0 404.8 275.7C407.8 273.4 410.8 271.1 413.9 268.9C416.9 266.6 420.0 264.4 423.1 262.2C426.2 260.1 429.3 257.9 432.5 255.8C435.7 253.8 438.9 251.7 442.1 249.8C445.4 248.0 448.8 246.2 452.2 244.5C455.6 242.9 459.1 241.4 462.7 240.1C466.2 238.9 469.9 237.8 473.6 236.9C477.3 236.1 481.0 235.4 484.8 235.0C488.5 234.7 492.3 234.6 496.1 234.8C499.8 235.0 503.6 235.4 507.3 236.2C511.0 237.0 514.6 238.0 518.1 239.4C521.6 240.7 525.0 242.4 528.2 244.3C531.5 246.2 534.6 248.4 537.5 250.8C540.5 253.2 543.3 255.9 545.8 258.6C548.4 261.4 550.8 264.4 553.0 267.5C555.1 270.6 557.1 273.9 558.8 277.3C560.4 280.6 561.9 284.1 562.9 287.7C564.0 291.2 564.8 294.9 565.2 298.6C565.7 302.3 565.9 306.1 565.8 309.9C565.7 313.7 565.4 317.5 564.9 321.3C564.5 325.1 563.8 328.8 563.0 332.6C562.2 336.3 561.2 339.9 560.1 343.6C559.1 347.2 557.9 350.8 556.6 354.4C555.4 358.0 554.0 361.5 552.6 365.0C551.2 368.5 549.8 372.0 548.3 375.5C546.8 379.0 545.2 382.4 543.6 385.8C542.1 389.3 540.4 392.7 538.8 396.1C537.2 399.5 535.6 402.9 533.9 406.3C532.3 409.7 530.6 413.2 529.0 416.6C527.4 420.0 525.8 423.4 524.2 426.9C522.6 430.3 521.1 433.8 519.6 437.3C518.0 440.8 516.6 444.3 515.1 447.8C513.7 451.3 512.3 454.8 511.0 458.4C509.7 461.9 508.4 465.5 507.2 469.1C506.0 472.6 504.8 476.3 503.8 479.9C502.7 483.5 501.7 487.1 500.8 490.8C499.9 494.4 499.1 498.1 498.4 501.8C497.7 505.5 497.1 509.2 496.5 512.9C495.9 516.6 495.4 520.4 494.9 524.1C494.4 527.9 494.0 531.6 493.6 535.4C493.1 539.1 492.8 542.9 492.3 546.6C491.9 550.4 491.5 554.2 491.1 557.9C490.7 561.7 490.2 565.4 489.7 569.2C489.2 572.9 488.7 576.7 488.1 580.4C487.5 584.2 486.8 587.9 486.1 591.6C485.4 595.3 484.7 599.0 483.8 602.7C483.0 606.3 482.1 610.0 481.2 613.6C480.2 617.3 479.2 620.9 478.1 624.5C477.0 628.1 475.8 631.7 474.5 635.2C473.3 638.8 472.0 642.3 470.5 645.8C469.1 649.3 467.6 652.8 466.0 656.2C464.4 659.6 462.8 663.0 461.0 666.4C459.3 669.7 457.5 673.1 455.6 676.3C453.7 679.6 451.7 682.9 449.6 686.1C447.6 689.2 445.5 692.4 443.3 695.5C441.1 698.6 438.8 701.6 436.5 704.6C434.1 707.6 431.7 710.6 429.3 713.5C426.8 716.3 424.3 719.2 421.7 721.9C419.1 724.7 416.4 727.4 413.7 730.0C411.0 732.7 408.2 735.3 405.3 737.8C402.5 740.3 399.6 742.7 396.6 745.1C393.7 747.4 390.7 749.7 387.6 751.9C384.5 754.1 381.4 756.2 378.2 758.3C375.1 760.3 371.8 762.3 368.6 764.2C365.3 766.1 362.0 767.9 358.6 769.6C355.3 771.3 351.9 772.9 348.4 774.4C345.0 775.9 341.5 777.3 338.0 778.7C334.5 780.0 330.9 781.2 327.3 782.4C323.8 783.5 320.1 784.5 316.5 785.4C312.8 786.4 309.2 787.2 305.5 787.9C301.8 788.6 298.0 789.2 294.3 789.6C290.5 790.1 286.8 790.5 283.0 790.7C279.2 791.0 275.4 791.1 271.5 791.1C267.7 791.1 263.9 791.0 260.1 790.8Z"/>
<clipPath id="c_magenta"><use href="#p_magenta"/></clipPath>
<linearGradient id="lg" x1="0" y1="0" x2="0" y2="1"><stop offset="0" stop-color="#2D4A92"/><stop offset="0.39" stop-color="#6D9FCA"/><stop offset="0.8" stop-color="#C8DCEC"/><stop offset="1" stop-color="#EEF2FA"/></linearGradient>
</defs>
<g id="venn-fills">
<use href="#p_red" fill="#C5DAEB"/>
<use href="#p_olive" fill="#6D9FCA"/>
<use href="#p_green" fill="#EEF2FA"/>
<use href="#p_blue" fill="#2D4A92"/>
<use href="#p_magenta" fill="#C3D9EA"/>
<g clip-path="url(#c_red)"><use href="#p_olive" fill="#ECF1F9"/></g>
<g clip-path="url(#c_red)"><use href="#p_green" fill="#EDF1FA"/></g>
<g clip-path="url(#c_red)"><use href="#p_blue" fill="#E4ECF6"/></g>
<g clip-path="url(#c_red)"><use href="#p_magenta" fill="#EEF2FA"/></g>
<g clip-path="url(#c_olive)"><use href="#p_green" fill="#EEF2FA"/></g>
<g clip-path="url(#c_olive)"><use href="#p_blue" fill="#E8EFF8"/></g>
<g clip-path="url(#c_olive)"><use href="#p_magenta" fill="#EEF2FA"/></g>
<g clip-path="url(#c_green)"><use href="#p_blue" fill="#EDF1FA"/></g>
<g clip-path="url(#c_green)"><use href="#p_magenta" fill="#EEF2FA"/></g>
<g clip-path="url(#c_blue)"><use href="#p_magenta" fill="#EBF0F9"/></g>
<g clip-path="url(#c_olive)"><g clip-path="url(#c_red)"><use href="#p_green" fill="#EDF2FA"/></g></g>
<g clip-path="url(#c_olive)"><g clip-path="url(#c_red)"><use href="#p_blue" fill="#EDF2FA"/></g></g>
<g clip-path="url(#c_olive)"><g clip-path="url(#c_red)"><use href="#p_magenta" fill="#EEF2FA"/></g></g>
<g clip-path="url(#c_green)"><g clip-path="url(#c_red)"><use href="#p_blue" fill="#EAF0F8"/></g></g>
<g clip-path="url(#c_green)"><g clip-path="url(#c_red)"><use href="#p_magenta" fill="#EEF2FA"/></g></g>
<g clip-path="url(#c_blue)"><g clip-path="url(#c_red)"><use href="#p_magenta" fill="#EEF2FA"/></g></g>
<g clip-path="url(#c_green)"><g clip-path="url(#c_olive)"><use href="#p_blue" fill="#EEF2FA"/></g></g>
<g clip-path="url(#c_green)"><g clip-path="url(#c_olive)"><use href="#p_magenta" fill="#EEF2FA"/></g></g>
<g clip-path="url(#c_blue)"><g clip-path="url(#c_olive)"><use href="#p_magenta" fill="#EEF2FA"/></g></g>
<g clip-path="url(#c_blue)"><g clip-path="url(#c_green)"><use href="#p_magenta" fill="#EEF2FA"/></g></g>
<g clip-path="url(#c_green)"><g clip-path="url(#c_olive)"><g clip-path="url(#c_red)"><use href="#p_blue" fill="#EEF2FA"/></g></g></g>
<g clip-path="url(#c_green)"><g clip-path="url(#c_olive)"><g clip-path="url(#c_red)"><use href="#p_magenta" fill="#EEF2FA"/></g></g></g>
<g clip-path="url(#c_blue)"><g clip-path="url(#c_olive)"><g clip-path="url(#c_red)"><use href="#p_magenta" fill="#EEF2FA"/></g></g></g>
<g clip-path="url(#c_blue)"><g clip-path="url(#c_green)"><g clip-path="url(#c_red)"><use href="#p_magenta" fill="#EEF2FA"/></g></g></g>
<g clip-path="url(#c_blue)"><g clip-path="url(#c_green)"><g clip-path="url(#c_olive)"><use href="#p_magenta" fill="#EEF2FA"/></g></g></g>
<g clip-path="url(#c_blue)"><g clip-path="url(#c_green)"><g clip-path="url(#c_olive)"><g clip-path="url(#c_red)"><use href="#p_magenta" fill="#EDF2FA"/></g></g></g></g>
</g>
<g id="venn-strokes" fill="none" stroke-width="2.3" stroke-linejoin="round">
<use href="#p_red" stroke="#D2706E"/>
<use href="#p_olive" stroke="#95A83A"/>
<use href="#p_green" stroke="#60BE7E"/>
<use href="#p_blue" stroke="#62ADE0"/>
<use href="#p_magenta" stroke="#CB84E9"/>
</g>
<rect x="475.3" y="377.2" width="1" height="1" fill="#d6d9e4"/><rect x="498.8" y="377.2" width="1" height="1" fill="#d6d9e4"/>
<g id="venn-labels">
<rect x="517.5" y="729.5" width="48" height="34" rx="2.5" fill="#fff" fill-opacity="0.5"/>
<text class="cnt" x="490.7" y="166.2">220</text><text class="cnt" x="490.7" y="181.7">(28%)</text>
<text class="cnt" x="354.7" y="233.2">3</text><text class="cnt" x="354.7" y="248.7">(0%)</text>
<text class="cnt" x="144.7" y="315.2">67</text><text class="cnt" x="144.7" y="330.7">(9%)</text>
<text class="cnt" x="248.7" y="330.2">18</text><text class="cnt" x="248.7" y="345.7">(2%)</text>
<text class="cnt" x="310.7" y="319.2">1</text><text class="cnt" x="310.7" y="334.7">(0%)</text>
<text class="cnt" x="583.7" y="408.2">1</text><text class="cnt" x="583.7" y="423.7">(0%)</text>
<text class="cnt" x="422.7" y="454.2">1</text><text class="cnt" x="422.7" y="469.7">(0%)</text>
<text class="cnt" x="637.7" y="462.2">2</text><text class="cnt" x="637.7" y="477.7">(0%)</text>
<text class="cnt" x="616.7" y="505.2">7</text><text class="cnt" x="616.7" y="520.7">(1%)</text>
<text class="cnt" x="627.7" y="581.2">2</text><text class="cnt" x="627.7" y="596.7">(0%)</text>
<text class="cnt" x="179.7" y="633.2">78</text><text class="cnt" x="179.7" y="648.7">(10%)</text>
<text class="cnt" x="498.7" y="665.2">10</text><text class="cnt" x="498.7" y="680.7">(1%)</text>
<text class="cnt" x="369.7" y="700.2">5</text><text class="cnt" x="369.7" y="715.7">(1%)</text>
<text class="cnt" x="541.7" y="744.2">362</text><text class="cnt" x="541.7" y="759.7">(47%)</text>
</g>
<text class="set" x="456.7" y="53.5">HF MR</text>
<text class="set" x="22" y="193.5">HF GWAS</text>
<text class="set" x="758" y="287.5">HFpEF/HFrEF GWAS</text>
<text class="set" x="0" y="766.5">Cardiomyopathy</text>
<text class="set" x="611" y="834.5">HFpEF/HFrEF MR</text>
<text class="b" x="41.4" y="25.5" font-size="35" letter-spacing="0.8">(a)</text>
<text class="b" x="1104.6" y="25.5" font-size="35" letter-spacing="0.8">(b)</text>
<text class="b" x="873" y="407.5" font-size="12.55">Number of genes</text>
<rect x="874.7" y="416" width="18.3" height="90" fill="url(#lg)"/>
<text class="b" x="899.5" y="435.8" font-size="10">300</text>
<path d="M874.7 431.5h3.6M889.4 431.5h3.6" stroke="#fff" stroke-opacity="0.6" stroke-width="0.8"/>
<text class="b" x="899.5" y="460.3" font-size="10">200</text>
<path d="M874.7 456.0h3.6M889.4 456.0h3.6" stroke="#fff" stroke-opacity="0.6" stroke-width="0.8"/>
<text class="b" x="899.5" y="485.3" font-size="10">100</text>
<path d="M874.7 481.0h3.6M889.4 481.0h3.6" stroke="#fff" stroke-opacity="0.6" stroke-width="0.8"/>
<text class="b" x="899.5" y="509.8" font-size="10">0</text>
<g id="upset">
<rect x="1472" y="565.4" width="696" height="34.4" fill="#f7f7f7"/>
<rect x="1472" y="634.6" width="696" height="34.4" fill="#f7f7f7"/>
<rect x="1472" y="703.8" width="696" height="34.4" fill="#f7f7f7"/>
<path d="M1472 64.5V565" stroke="#8c8c8c" stroke-width="1.1" fill="none"/>
<path d="M1468.5 551.2h3.5" stroke="#8c8c8c" stroke-width="1"/>
<text class="ax" x="1467.5" y="557.4" text-anchor="end">0</text>
<path d="M1468.5 434.7h3.5" stroke="#8c8c8c" stroke-width="1"/>
<text class="ax" x="1467.5" y="440.9" text-anchor="end">100</text>
<path d="M1468.5 318.1h3.5" stroke="#8c8c8c" stroke-width="1"/>
<text class="ax" x="1467.5" y="324.3" text-anchor="end">200</text>
<path d="M1468.5 201.6h3.5" stroke="#8c8c8c" stroke-width="1"/>
<text class="ax" x="1467.5" y="207.8" text-anchor="end">300</text>
<path d="M1468.5 85.0h3.5" stroke="#8c8c8c" stroke-width="1"/>
<text class="ax" x="1467.5" y="91.2" text-anchor="end">400</text>
<path d="M1472 551.5H2168" stroke="#333" stroke-width="1.2"/>
<text transform="translate(1306.5 318.7) rotate(-90)" font-size="20.95" fill="#000" text-anchor="middle">Number of shared genes</text>
<rect x="1504.55" y="129.29" width="27.4" height="421.91" fill="#3b3b3b"/>
<text class="bl" x="1518.2" y="117.9">362</text>
<rect x="1550.95" y="294.79" width="27.4" height="256.41" fill="#3b3b3b"/>
<text class="bl" x="1564.7" y="283.4">220</text>
<rect x="1597.35" y="460.29" width="27.4" height="90.91" fill="#3b3b3b"/>
<text class="bl" x="1611.0" y="448.9">78</text>
<rect x="1643.75" y="473.11" width="27.4" height="78.09" fill="#3b3b3b"/>
<text class="bl" x="1657.5" y="461.7">67</text>
<rect x="1690.15" y="530.22" width="27.4" height="20.98" fill="#3b3b3b"/>
<text class="bl" x="1703.8" y="518.8">18</text>
<rect x="1736.55" y="539.55" width="27.4" height="11.65" fill="#3b3b3b"/>
<text class="bl" x="1750.2" y="528.1">10</text>
<rect x="1782.95" y="543.04" width="27.4" height="8.16" fill="#3b3b3b"/>
<text class="bl" x="1796.7" y="531.6">7</text>
<rect x="1829.35" y="545.37" width="27.4" height="5.83" fill="#3b3b3b"/>
<text class="bl" x="1843.0" y="534.0">5</text>
<rect x="1875.75" y="547.70" width="27.4" height="3.50" fill="#3b3b3b"/>
<text class="bl" x="1889.5" y="536.3">3</text>
<rect x="1922.15" y="548.87" width="27.4" height="2.33" fill="#3b3b3b"/>
<text class="bl" x="1935.8" y="537.5">2</text>
<rect x="1968.55" y="548.87" width="27.4" height="2.33" fill="#3b3b3b"/>
<text class="bl" x="1982.2" y="537.5">2</text>
<rect x="2014.95" y="550.03" width="27.4" height="1.17" fill="#3b3b3b"/>
<text class="bl" x="2028.7" y="538.6">1</text>
<rect x="2061.35" y="550.03" width="27.4" height="1.17" fill="#3b3b3b"/>
<text class="bl" x="2075.1" y="538.6">1</text>
<rect x="2107.75" y="550.03" width="27.4" height="1.17" fill="#3b3b3b"/>
<text class="bl" x="2121.4" y="538.6">1</text>
<circle cx="1518.2" cy="582.6" r="3.1" fill="#e2e2e2"/>
<circle cx="1518.2" cy="617.2" r="3.1" fill="#e2e2e2"/>
<circle cx="1518.2" cy="651.8" r="3.1" fill="#e2e2e2"/>
<circle cx="1518.2" cy="686.4" r="3.1" fill="#e2e2e2"/>
<circle cx="1564.7" cy="582.6" r="3.1" fill="#e2e2e2"/>
<circle cx="1564.7" cy="617.2" r="3.1" fill="#e2e2e2"/>
<circle cx="1564.7" cy="651.8" r="3.1" fill="#e2e2e2"/>
<circle cx="1564.7" cy="721.0" r="3.1" fill="#e2e2e2"/>
<circle cx="1611.0" cy="582.6" r="3.1" fill="#e2e2e2"/>
<circle cx="1611.0" cy="651.8" r="3.1" fill="#e2e2e2"/>
<circle cx="1611.0" cy="686.4" r="3.1" fill="#e2e2e2"/>
<circle cx="1611.0" cy="721.0" r="3.1" fill="#e2e2e2"/>
<circle cx="1657.5" cy="582.6" r="3.1" fill="#e2e2e2"/>
<circle cx="1657.5" cy="617.2" r="3.1" fill="#e2e2e2"/>
<circle cx="1657.5" cy="686.4" r="3.1" fill="#e2e2e2"/>
<circle cx="1657.5" cy="721.0" r="3.1" fill="#e2e2e2"/>
<circle cx="1703.8" cy="582.6" r="3.1" fill="#e2e2e2"/>
<circle cx="1703.8" cy="617.2" r="3.1" fill="#e2e2e2"/>
<circle cx="1703.8" cy="686.4" r="3.1" fill="#e2e2e2"/>
<circle cx="1750.2" cy="582.6" r="3.1" fill="#e2e2e2"/>
<circle cx="1750.2" cy="617.2" r="3.1" fill="#e2e2e2"/>
<circle cx="1750.2" cy="651.8" r="3.1" fill="#e2e2e2"/>
<circle cx="1796.7" cy="617.2" r="3.1" fill="#e2e2e2"/>
<circle cx="1796.7" cy="686.4" r="3.1" fill="#e2e2e2"/>
<circle cx="1843.0" cy="582.6" r="3.1" fill="#e2e2e2"/>
<circle cx="1843.0" cy="651.8" r="3.1" fill="#e2e2e2"/>
<circle cx="1843.0" cy="686.4" r="3.1" fill="#e2e2e2"/>
<circle cx="1889.5" cy="582.6" r="3.1" fill="#e2e2e2"/>
<circle cx="1889.5" cy="617.2" r="3.1" fill="#e2e2e2"/>
<circle cx="1889.5" cy="721.0" r="3.1" fill="#e2e2e2"/>
<circle cx="1935.8" cy="617.2" r="3.1" fill="#e2e2e2"/>
<circle cx="1935.8" cy="686.4" r="3.1" fill="#e2e2e2"/>
<circle cx="1935.8" cy="721.0" r="3.1" fill="#e2e2e2"/>
<circle cx="1982.2" cy="617.2" r="3.1" fill="#e2e2e2"/>
<circle cx="1982.2" cy="651.8" r="3.1" fill="#e2e2e2"/>
<circle cx="1982.2" cy="686.4" r="3.1" fill="#e2e2e2"/>
<circle cx="2028.7" cy="617.2" r="3.1" fill="#e2e2e2"/>
<circle cx="2028.7" cy="721.0" r="3.1" fill="#e2e2e2"/>
<circle cx="2075.1" cy="582.6" r="3.1" fill="#e2e2e2"/>
<circle cx="2075.1" cy="617.2" r="3.1" fill="#e2e2e2"/>
<circle cx="1518.2" cy="721.0" r="3.5" fill="#333"/>
<circle cx="1564.7" cy="686.4" r="3.5" fill="#333"/>
<circle cx="1611.0" cy="617.2" r="3.5" fill="#333"/>
<circle cx="1657.5" cy="651.8" r="3.5" fill="#333"/>
<path d="M1703.8 651.8V721.0" stroke="#333" stroke-width="1.7"/>
<circle cx="1703.8" cy="651.8" r="3.5" fill="#333"/>
<circle cx="1703.8" cy="721.0" r="3.5" fill="#333"/>
<path d="M1750.2 686.4V721.0" stroke="#333" stroke-width="1.7"/>
<circle cx="1750.2" cy="686.4" r="3.5" fill="#333"/>
<circle cx="1750.2" cy="721.0" r="3.5" fill="#333"/>
<path d="M1796.7 582.6V721.0" stroke="#333" stroke-width="1.7"/>
<circle cx="1796.7" cy="582.6" r="3.5" fill="#333"/>
<circle cx="1796.7" cy="651.8" r="3.5" fill="#333"/>
<circle cx="1796.7" cy="721.0" r="3.5" fill="#333"/>
<path d="M1843.0 617.2V721.0" stroke="#333" stroke-width="1.7"/>
<circle cx="1843.0" cy="617.2" r="3.5" fill="#333"/>
<circle cx="1843.0" cy="721.0" r="3.5" fill="#333"/>
<path d="M1889.5 651.8V686.4" stroke="#333" stroke-width="1.7"/>
<circle cx="1889.5" cy="651.8" r="3.5" fill="#333"/>
<circle cx="1889.5" cy="686.4" r="3.5" fill="#333"/>
<path d="M1935.8 582.6V651.8" stroke="#333" stroke-width="1.7"/>
<circle cx="1935.8" cy="582.6" r="3.5" fill="#333"/>
<circle cx="1935.8" cy="651.8" r="3.5" fill="#333"/>
<path d="M1982.2 582.6V721.0" stroke="#333" stroke-width="1.7"/>
<circle cx="1982.2" cy="582.6" r="3.5" fill="#333"/>
<circle cx="1982.2" cy="721.0" r="3.5" fill="#333"/>
<path d="M2028.7 582.6V686.4" stroke="#333" stroke-width="1.7"/>
<circle cx="2028.7" cy="582.6" r="3.5" fill="#333"/>
<circle cx="2028.7" cy="651.8" r="3.5" fill="#333"/>
<circle cx="2028.7" cy="686.4" r="3.5" fill="#333"/>
<path d="M2075.1 651.8V721.0" stroke="#333" stroke-width="1.7"/>
<circle cx="2075.1" cy="651.8" r="3.5" fill="#333"/>
<circle cx="2075.1" cy="686.4" r="3.5" fill="#333"/>
<circle cx="2075.1" cy="721.0" r="3.5" fill="#333"/>
<path d="M2121.4 582.6V721.0" stroke="#333" stroke-width="1.7"/>
<circle cx="2121.4" cy="582.6" r="3.5" fill="#333"/>
<circle cx="2121.4" cy="617.2" r="3.5" fill="#333"/>
<circle cx="2121.4" cy="651.8" r="3.5" fill="#333"/>
<circle cx="2121.4" cy="686.4" r="3.5" fill="#333"/>
<circle cx="2121.4" cy="721.0" r="3.5" fill="#333"/>
<rect x="1281.23" y="575.35" width="6.77" height="14.5" fill="#3b3b3b"/>
<text class="sl" x="1384" y="588.8">HFpEF/HFrEF GWAS</text>
<rect x="1244.24" y="609.95" width="43.76" height="14.5" fill="#3b3b3b"/>
<text class="sl" x="1379.75" y="623.4">Cardiomyopathy</text>
<rect x="1235.90" y="644.55" width="52.10" height="14.5" fill="#3b3b3b"/>
<text class="sl" x="1375.25" y="658.0">HF GWAS</text>
<rect x="1165.04" y="679.15" width="122.96" height="14.5" fill="#3b3b3b"/>
<text class="sl" x="1372.75" y="692.6">HF MR</text>
<rect x="1076.47" y="713.75" width="211.53" height="14.5" fill="#3b3b3b"/>
<text class="sl" x="1381.5" y="727.2">HFpEF/HFrEF MR</text>
<path d="M1065.5 738.3H1298" stroke="#8c8c8c" stroke-width="1.1"/>
<text class="ax" x="1287.7" y="756.7" text-anchor="middle">0</text>
<text class="ax" x="1235.6" y="756.7" text-anchor="middle">100</text>
<text class="ax" x="1183.5" y="756.7" text-anchor="middle">200</text>
<text class="ax" x="1131.4" y="756.7" text-anchor="middle">300</text>
<text class="ax" x="1079.3" y="756.7" text-anchor="middle">400</text>
<text x="1182" y="775.2" font-size="17.5" fill="#000" text-anchor="middle">Number of genes per group</text>
</g>
</svg></body></html>
